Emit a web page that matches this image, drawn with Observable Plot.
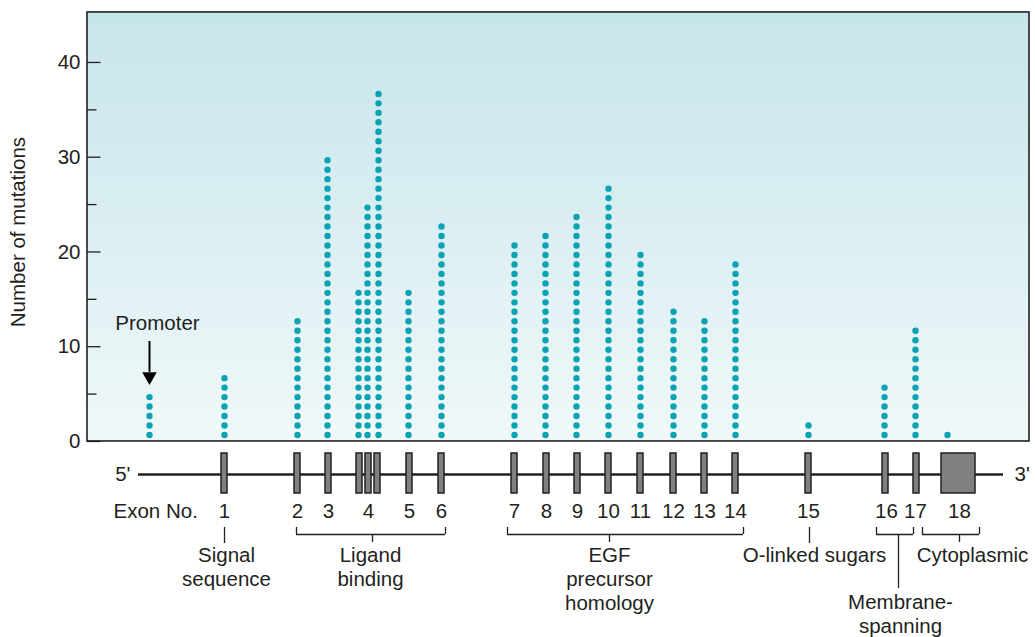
<!DOCTYPE html>
<html>
<head>
<meta charset="utf-8">
<script src="https://cdn.jsdelivr.net/npm/d3@7"></script>
<script src="https://cdn.jsdelivr.net/npm/@observablehq/plot@0.6"></script>
<style>
  html, body { margin: 0; padding: 0; background: #ffffff; }
  #chart svg { display: block; }
</style>
</head>
<body>
<div id="chart"></div>
<script>
// ---------------- DATA ----------------
// Mutation columns (promoter + exons; exon 4 is split in three sub-exons)
const columnNames = ["Promoter", "1", "2", "3", "4a", "4b", "4c", "5", "6", "7", "8", "9", "10", "11", "12", "13", "14", "15", "16", "17", "18"];
// position along the gene schematic (arbitrary units)
const columnPositions = [62, 137, 210, 240, 271, 280, 291, 321, 354, 427, 458, 489, 521, 553, 586, 617, 648, 721, 797, 828, 860];
const mutationCounts = [5, 7, 13, 30, 16, 25, 37, 16, 23, 21, 22, 24, 27, 20, 14, 13, 19, 2, 6, 12, 1];

// y-axis ticks
const majorTicks = [0, 10, 20, 30, 40];
const minorTicks = [5, 15, 25, 35];

// Exon boxes on the gene schematic
const exonBoxStart = [134, 207, 238, 269, 278, 287, 319, 351, 424, 456, 487, 518, 550, 583, 614, 645, 718, 795, 826, 854];
const exonBoxEnd   = [140, 213, 244, 275, 284, 293, 325, 357, 430, 462, 493, 524, 556, 589, 620, 651, 724, 801, 832, 888];

// Exon number labels
const exonLabels = ["1", "2", "3", "4", "5", "6", "7", "8", "9", "10", "11", "12", "13", "14", "15", "16", "17", "18"];
const exonLabelPositions = [137, 210, 241, 281, 322, 354, 427, 459, 490, 521, 553, 586, 617, 648, 721, 799, 828, 872];

// Protein domain annotations
const regionNames = ["Signal\nsequence", "Ligand\nbinding", "EGF\nprecursor\nhomology", "O-linked sugars", "Membrane-\nspanning", "Cytoplasmic"];
const regionStart = [137, 209, 420, 722, 789, 835];
const regionEnd   = [137, 358, 656, 722, 826, 892];
const regionTick  = [137, 285, 522, 722, 811, 872];
const regionLabelAt = [139, 283, 522, 727, 813, 885];
const regionLowLabel = [false, false, false, false, true, false];

// ---------------- LAYOUT (schematic geometry, in y units) ----------------
const X_MAX = 942;
const Y_MIN = -20.69, Y_MAX = 46.54, FRAME_TOP = 45.28;
const L = {
  geneLine: -3.48, boxTop: -1.27, boxBottom: -5.49, geneStart: 51, geneEnd: 916,
  exonRow: -7.4, bracketTop: -9.08, bracketBar: -9.82, tickBottom: -10.66,
  singleBottom: -10.77, labelTop: -10.95, lowTickBottom: -15.51, lowLabelTop: -15.85,
  promoterText: 12.45, arrowTop: 10.55, arrowBottom: 7.3, arrowHead: 6.85
};

// ---------------- DERIVED TABLES ----------------
const dots = columnNames.flatMap((name, i) =>
  d3.range(1, mutationCounts[i] + 1).map(k => ({ column: name, x: columnPositions[i], n: k })));
const exons = exonBoxStart.map((s, i) => ({ x1: s, x2: exonBoxEnd[i] }));
const exonText = exonLabels.map((t, i) => ({ text: t, x: exonLabelPositions[i] }));
const regions = regionNames.map((name, i) => ({
  name, start: regionStart[i], end: regionEnd[i], tick: regionTick[i],
  labelAt: regionLabelAt[i], low: regionLowLabel[i]
}));
const brackets = regions.filter(r => r.end > r.start);
const singles = regions.filter(r => r.end === r.start);

const FONT = "'Liberation Sans', Arial, Helvetica, sans-serif";
const INK = "#231f20";
const FS = 20.5;
const TXT = { fontSize: FS, fill: INK, letterSpacing: "0.5px" };

const plot = Plot.plot({
  width: 1035,
  height: 637,
  marginLeft: 87,
  marginRight: 6,
  marginTop: 0,
  marginBottom: 0,
  style: { fontFamily: FONT, color: INK, background: "#ffffff", overflow: "visible" },
  x: { domain: [0, X_MAX], axis: null },
  y: { domain: [Y_MIN, Y_MAX], axis: null },
  marks: [
    // plot background with gradient
    Plot.rect([{}], { x1: () => 0, x2: () => X_MAX, y1: () => 0, y2: () => FRAME_TOP, fill: "url(#bgGrad)" }),
    // y axis tick marks (inside frame)
    Plot.ruleY(majorTicks, { y: d => d, x1: () => 0, x2: () => 13.5, stroke: INK, strokeWidth: 1.3 }),
    Plot.ruleY(minorTicks, { y: d => d, x1: () => 0, x2: () => 9.5, stroke: INK, strokeWidth: 1.3 }),
    Plot.axisY({ ticks: majorTicks, tickSize: 0, tickPadding: 7, fontSize: FS, label: null, fill: INK }),
    // axis title
    Plot.text(["Number of mutations"], { x: () => -69, y: () => 22.1, text: d => d, rotate: -90, fontSize: FS, fill: INK, letterSpacing: "0.2px" }),
    // mutation dots
    Plot.dot(dots, { x: "x", y: "n", r: 3.2, fill: "#0aa3b4", stroke: null, dy: 3 }),
    // frame
    Plot.rect([{}], { x1: () => 0, x2: () => X_MAX, y1: () => 0, y2: () => FRAME_TOP, fill: "none", stroke: INK, strokeWidth: 1.6 }),
    // Promoter annotation
    Plot.text(["Promoter"], { x: () => columnPositions[0] + 8, y: () => L.promoterText, text: d => d, ...TXT }),
    Plot.ruleX([columnPositions[0]], { x: d => d, y1: () => L.arrowTop, y2: () => L.arrowBottom, stroke: "#000", strokeWidth: 2 }),
    Plot.dot([columnPositions[0]], { x: d => d, y: () => L.arrowHead, symbol: "triangle", r: 5.4, rotate: 180, fill: "#000", stroke: null }),

    // ---- gene schematic ----
    Plot.ruleY([L.geneLine], { y: d => d, x1: () => L.geneStart, x2: () => L.geneEnd, stroke: INK, strokeWidth: 2.4 }),
    Plot.rect(exons, { x1: "x1", x2: "x2", y1: () => L.boxTop, y2: () => L.boxBottom, fill: "#808080", stroke: INK, strokeWidth: 1.5 }),
    Plot.text(["5'"], { x: () => L.geneStart - 8, y: () => L.geneLine, text: d => d, textAnchor: "end", ...TXT }),
    Plot.text(["3'"], { x: () => L.geneEnd + 11, y: () => L.geneLine, text: d => d, textAnchor: "start", ...TXT }),
    Plot.text(["Exon No."], { x: () => 26, y: () => L.exonRow, text: d => d, textAnchor: "start", ...TXT }),
    Plot.text(exonText, { x: "x", y: () => L.exonRow, text: "text", ...TXT }),

    // brackets
    Plot.ruleY(brackets, { y: () => L.bracketBar, x1: "start", x2: "end", stroke: INK, strokeWidth: 1.3 }),
    Plot.ruleX(brackets, { x: "start", y1: () => L.bracketTop, y2: () => L.bracketBar, stroke: INK, strokeWidth: 1.3 }),
    Plot.ruleX(brackets, { x: "end", y1: () => L.bracketTop, y2: () => L.bracketBar, stroke: INK, strokeWidth: 1.3 }),
    Plot.ruleX(brackets, { x: "tick", y1: () => L.bracketBar, y2: r => r.low ? L.lowTickBottom : L.tickBottom, stroke: INK, strokeWidth: 1.3 }),
    Plot.ruleX(singles, { x: "tick", y1: () => L.bracketTop, y2: () => L.singleBottom, stroke: INK, strokeWidth: 1.3 }),
    // region labels
    Plot.text(regions, { x: "labelAt", y: r => r.low ? L.lowLabelTop : L.labelTop, text: "name", lineAnchor: "top", lineHeight: 1.17, ...TXT })
  ]
});

// gradient definition for the plot background
const svg = d3.select(plot);
const defs = svg.insert("defs", ":first-child");
const grad = defs.append("linearGradient").attr("id", "bgGrad").attr("x1", 0).attr("y1", 0).attr("x2", 0).attr("y2", 1);
grad.append("stop").attr("offset", "0%").attr("stop-color", "#c6e5eb");
grad.append("stop").attr("offset", "100%").attr("stop-color", "#f0f8f9");

document.getElementById("chart").appendChild(plot);
</script>
</body>
</html>
